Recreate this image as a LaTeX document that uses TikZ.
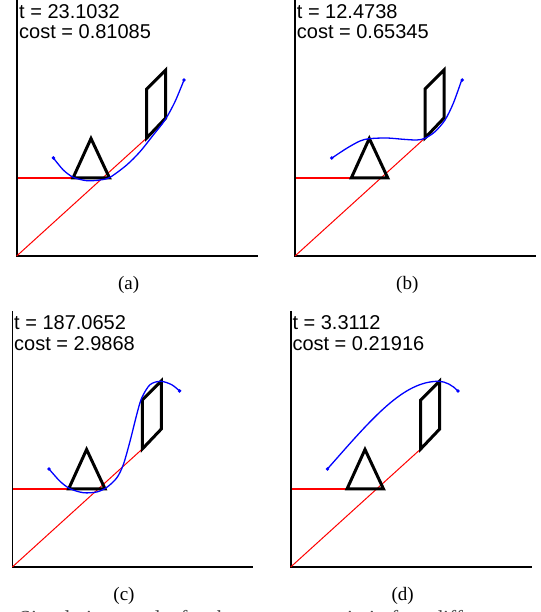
\documentclass[tikz,border=0pt]{standalone}
\usepackage{fontspec}
\setmainfont{Liberation Serif}
\newfontfamily\infofont{Liberation Sans}
\begin{document}
\begin{tikzpicture}[x=1pt,y=1pt,
  axisline/.style={draw=black,line width=1.6pt},
  redline/.style={draw=red,line width=1pt},
  shapeline/.style={draw=black,line width=3pt,line join=miter},
  bluecurve/.style={draw=blue,line width=1.3pt},
  bluedot/.style={fill=blue},
  infotext/.style={inner sep=0pt,anchor=base west,font=\infofont\fontsize{20}{24}\selectfont},
  sublabel/.style={inner sep=0pt,anchor=base,font=\fontsize{19}{23}\selectfont}]
\newcommand\drawscenepart{%
  \draw[axisline] (0,256) -- (0,0) -- (241,0);
  \draw[redline,line width=1.4pt] (0.8,78) -- (56.3,78);
  \draw[redline] (0,0) -- (130,118);
  \draw[shapeline] (56.3,78) -- (92.8,78) -- (74.3,117.5) -- cycle;
  \draw[shapeline] (130,118) -- (130,167) -- (149,186) -- (149,138) -- cycle;
  \fill[bluedot] (36.7,98) circle (1.9);
  \fill[bluedot] (167.3,176) circle (1.9);
}
\clip (0,0) rectangle (540,612);
\fill[white] (0,0) rectangle (540,612);
% panel (a)
\begin{scope}[shift={(16.7,356)}]
  \drawscenepart
  \draw[bluecurve] plot[smooth] coordinates {(36.7,98) (46.6,86) (56.6,78.7) (70,75.3) (83.3,76) (93.3,78.7) (110,91) (123.3,104.3) (136.6,121) (148.3,136) (158.3,154.3) (167.3,176)};
\end{scope}
% panel (b)
\begin{scope}[shift={(295,356)}]
  \drawscenepart
  \draw[bluecurve] plot[smooth] coordinates {(37,98) (51.7,107.7) (65,115) (74.3,117.3) (91.7,118) (108.3,116.7) (121.7,116) (130,117.7) (140,124.3) (150,136) (158.3,152.7) (166.7,176)};
\end{scope}
% panel (c)
\begin{scope}[shift={(12.3,45)}]
  \drawscenepart
  \draw[bluecurve] plot[smooth] coordinates {(37,97.7) (47.7,85.7) (57.7,78.3) (71,74.3) (84.4,75) (94.4,79.6) (104.4,89) (111,102.3) (117.7,125.7) (124.4,152.3) (129.4,169) (137.7,182.3) (148.4,185.7) (159.4,182.3) (167.5,175.8)};
\end{scope}
% panel (d)
\begin{scope}[shift={(290.7,45)}]
  \drawscenepart
  \draw[bluecurve] (36.7,98) .. controls (81.6,149) and (112.6,185.7) .. (147.6,185.7)
                   .. controls (155,185.7) and (162,181.5) .. (167.3,176);
\end{scope}
% texts
\node[infotext] (ta) at (19,593) {t = 23.1032};
\node[infotext] (ca) at (19,573.7) {cost = 0.81085};
\node[infotext] (tb) at (296.7,593) {t = 12.4738};
\node[infotext] (cb) at (296.7,573.7) {cost = 0.65345};
\node[infotext] (tc) at (14,282) {t = 187.0652};
\node[infotext] (cc) at (14,261.3) {cost = 2.9868};
\node[infotext] (td) at (292.3,282) {t = 3.3112};
\node[infotext] (cd) at (292.3,261.3) {cost = 0.21916};
\node[sublabel] (la) at (128.7,322) {(a)};
\node[sublabel] (lb) at (407.3,322) {(b)};
\node[sublabel] (lc) at (124,11) {(c)};
\node[sublabel] (ld) at (402.7,11) {(d)};
\node[inner sep=0pt,anchor=base west,font=\fontsize{21.5}{25}\selectfont,text=black!70] (cap) at (19,-13) {Simulation results for the same scenario in four different};
\end{tikzpicture}
\end{document}
